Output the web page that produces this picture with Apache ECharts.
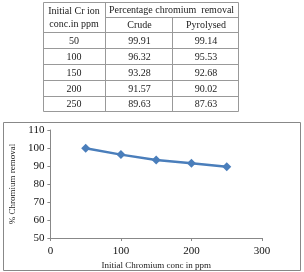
<!DOCTYPE html>
<html><head><meta charset="utf-8">
<script src="https://cdn.jsdelivr.net/npm/echarts@6/dist/echarts.min.js"></script>
<style>html,body{margin:0;padding:0;background:#fff}#c{width:304px;height:272px}</style>
</head><body><div id="c"></div>
<script>
var concentrations = [50, 100, 150, 200, 250];
var crude = [99.91, 96.32, 93.28, 91.57, 89.63];
var pyrolysed = [99.14, 95.53, 92.68, 90.02, 87.63];
var headerFirst = ['Initial Cr ion', 'conc.in ppm'];
var headerGroup = 'Percentage chromium  removal';
var headerCols = ['Crude', 'Pyrolysed'];
var yTicks = [50, 60, 70, 80, 90, 100, 110];
var xTicks = [0, 100, 200, 300];

var FONT = '"Liberation Serif", "DejaVu Serif", serif';
var lineCol = '#999';
var colX = [43, 105, 172, 238];
var rowY = [2, 17, 32, 48, 64, 80, 96, 111];

var g = [];
function line(x1, y1, x2, y2) {
  g.push({type: 'line', shape: {x1: x1, y1: y1, x2: x2, y2: y2}, style: {stroke: lineCol, lineWidth: 1}, silent: true});
}
function txt(x, y, s) {
  g.push({type: 'text', x: x, y: y, style: {text: s, font: '10px ' + FONT, fill: '#222', align: 'center', verticalAlign: 'middle'}, silent: true});
}
// table borders
for (var i = 0; i < rowY.length; i++) {
  if (i === 1) line(colX[1] + 0.5, rowY[i] + 0.5, colX[3] + 0.5, rowY[i] + 0.5);
  else line(colX[0] + 0.5, rowY[i] + 0.5, colX[3] + 0.5, rowY[i] + 0.5);
}
line(colX[0] + 0.5, rowY[0] + 0.5, colX[0] + 0.5, rowY[7] + 0.5);
line(colX[1] + 0.5, rowY[0] + 0.5, colX[1] + 0.5, rowY[7] + 0.5);
line(colX[2] + 0.5, rowY[1] + 0.5, colX[2] + 0.5, rowY[7] + 0.5);
line(colX[3] + 0.5, rowY[0] + 0.5, colX[3] + 0.5, rowY[7] + 0.5);
var c0 = (colX[0] + colX[1]) / 2, c1 = (colX[1] + colX[2]) / 2 + 1, c2 = (colX[2] + colX[3]) / 2 + 1;
txt(c0, 11, headerFirst[0]);
txt(c0, 24, headerFirst[1]);
txt((colX[1] + colX[3]) / 2, 10, headerGroup);
txt(c1, 25, headerCols[0]);
txt(c2, 25, headerCols[1]);
for (var r = 0; r < concentrations.length; r++) {
  var cy = (rowY[r + 2] + rowY[r + 3]) / 2 + 1;
  txt(c0, cy, String(concentrations[r]));
  txt(c1, cy, crude[r].toFixed(2));
  txt(c2, cy, pyrolysed[r].toFixed(2));
}
// chart border
g.push({type: 'rect', shape: {x: 3.5, y: 122.5, width: 297, height: 148}, style: {fill: 'none', stroke: '#888', lineWidth: 1}, silent: true, z: -1});

var chart = echarts.init(document.getElementById('c'), null, {renderer: 'canvas'});
chart.setOption({
  animation: false,
  backgroundColor: '#fff',
  graphic: g,
  grid: {left: 40, top: 130, right: 42, bottom: 34},
  xAxis: {
    type: 'value', min: xTicks[0], max: xTicks[xTicks.length - 1], interval: 100,
    name: 'Initial Chromium conc in ppm', nameLocation: 'middle', nameGap: 23,
    nameTextStyle: {fontFamily: FONT, fontSize: 9, color: '#222'},
    axisLine: {show: true, lineStyle: {color: '#888'}},
    axisTick: {show: true, length: 3, lineStyle: {color: '#888'}},
    axisLabel: {fontFamily: FONT, fontSize: 11, color: '#111', margin: 8},
    splitLine: {show: false}
  },
  yAxis: {
    type: 'value', min: yTicks[0], max: yTicks[yTicks.length - 1], interval: 10,
    name: '% Chromium removal', nameLocation: 'middle', nameGap: 25,
    nameTextStyle: {fontFamily: FONT, fontSize: 9, color: '#222'},
    axisLine: {show: true, lineStyle: {color: '#888'}},
    axisTick: {show: true, length: 3, lineStyle: {color: '#888'}},
    axisLabel: {fontFamily: FONT, fontSize: 11, color: '#111', margin: 6},
    splitLine: {show: false}
  },
  series: [{
    type: 'line',
    data: concentrations.map(function (x, i) { return [x, crude[i]]; }),
    symbol: 'diamond', symbolSize: 9,
    lineStyle: {color: '#4A7EBB', width: 2.5},
    itemStyle: {color: '#4A7EBB'}
  }]
});
</script></body></html>
